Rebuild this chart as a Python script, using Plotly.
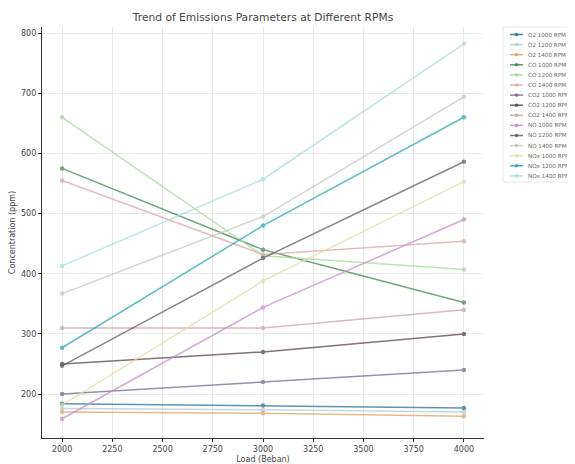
import plotly.graph_objects as go

loads = [2000, 3000, 4000]

series_names = [
    "O2 1000 RPM", "O2 1200 RPM", "O2 1400 RPM",
    "CO 1000 RPM", "CO 1200 RPM", "CO 1400 RPM",
    "CO2 1000 RPM", "CO2 1200 RPM", "CO2 1400 RPM",
    "NO 1000 RPM", "NO 1200 RPM", "NO 1400 RPM",
    "NOx 1000 RPM", "NOx 1200 RPM", "NOx 1400 RPM",
]

o2_1000 = [184, 181, 177]
o2_1200 = [176, 174, 170]
o2_1400 = [170, 168, 163]
co_1000 = [575, 440, 352]
co_1200 = [660, 430, 407]
co_1400 = [555, 432, 454]
co2_1000 = [200, 220, 240]
co2_1200 = [250, 270, 300]
co2_1400 = [310, 310, 340]
no_1000 = [159, 344, 490]
no_1200 = [247, 426, 586]
no_1400 = [367, 495, 694]
nox_1000 = [182, 388, 553]
nox_1200 = [277, 480, 660]
nox_1400 = [413, 557, 782]

series_values = [
    o2_1000, o2_1200, o2_1400,
    co_1000, co_1200, co_1400,
    co2_1000, co2_1200, co2_1400,
    no_1000, no_1200, no_1400,
    nox_1000, nox_1200, nox_1400,
]

colors = [
    "#2f6f8c", "#a9cde0", "#e2a35a",
    "#3c8a4c", "#a6d99e", "#dba8a8",
    "#76698f", "#5a4644", "#c2a8a6",
    "#c98ad0", "#5f5f63", "#c6c6c6",
    "#dfe0a2", "#27a6b6", "#a6dde2",
]

x_ticks = [2000, 2250, 2500, 2750, 3000, 3250, 3500, 3750, 4000]
y_ticks = [200, 300, 400, 500, 600, 700, 800]

fig = go.Figure()
for name, vals, col in zip(series_names, series_values, colors):
    fig.add_trace(go.Scatter(
        x=loads, y=vals, name=name, mode="lines+markers",
        line=dict(color=col, width=1.5),
        marker=dict(color=col, size=4.5),
        opacity=0.75, showlegend=False,
    ))

# The page body has the browser's default 8px margin: lay out in figure pixels
OFF = 8
W, H = 567, 456
ml, mt = 42 - OFF, 27 - OFF
mr = W - (484 - OFF)
mb = H - (438 - OFF)
pw, ph = W - ml - mr, H - mt - mb

def px_to_paper(x, y):
    # x, y in screen pixels
    return (x - OFF - ml) / pw, 1 - (y - OFF - mt) / ph

# compact legend (matplotlib-like), built from the series lists
lx0, ly0, dy = 510, 34.5, 10.1
shapes = []
annotations = []
bx0, by0 = px_to_paper(503, 27)
bx1, by1 = px_to_paper(570, 182)
shapes.append(dict(type="rect", xref="paper", yref="paper", x0=bx0, y0=by1, x1=bx1, y1=by0,
                   line=dict(color="#e8e8e8", width=1), fillcolor="rgba(255,255,255,0.9)", layer="above"))
for i, (name, col) in enumerate(zip(series_names, colors)):
    yy = ly0 + i * dy
    xa, ya = px_to_paper(lx0, yy)
    xb, _ = px_to_paper(lx0 + 13, yy)
    xt, _ = px_to_paper(lx0 + 16, yy)
    shapes.append(dict(type="line", xref="paper", yref="paper", x0=xa, x1=xb, y0=ya, y1=ya,
                       line=dict(color=col, width=1.5), opacity=0.85, layer="above"))
    r = 1.8
    cx0, cy0 = px_to_paper(lx0 + 6.5 - r, yy - r)
    cx1, cy1 = px_to_paper(lx0 + 6.5 + r, yy + r)
    shapes.append(dict(type="circle", xref="paper", yref="paper", x0=cx0, x1=cx1, y0=cy1, y1=cy0,
                       fillcolor=col, line=dict(color=col, width=0), opacity=0.85, layer="above"))
    annotations.append(dict(text=name, xref="paper", yref="paper", x=xt, y=ya,
                            xanchor="left", yanchor="middle", showarrow=False,
                            font=dict(size=5.6, color="#666666", family="DejaVu Sans")))

fig.update_layout(
    width=W, height=H,
    margin=dict(l=ml, r=mr, t=mt, b=mb, autoexpand=False),
    paper_bgcolor="white", plot_bgcolor="white",
    font=dict(family="DejaVu Sans", color="#444444"),
    title=dict(text="Trend of Emissions Parameters at Different RPMs",
               x=(ml + pw / 2) / W, xanchor="center", y=1 - (17 - OFF) / H, yanchor="middle",
               font=dict(size=10.7, color="#444444")),
    shapes=shapes, annotations=annotations,
)
fig.update_xaxes(
    range=[1900, 4100], tickvals=x_ticks, ticktext=[str(t) for t in x_ticks],
    showgrid=True, gridcolor="#e9e9e9", gridwidth=1,
    showline=True, linecolor="#333333", linewidth=1.2,
    ticks="outside", ticklen=3, tickcolor="#333333",
    tickfont=dict(size=8, color="#444444"),
    title=dict(text="Load (Beban)", font=dict(size=8, color="#444444"), standoff=4),
    zeroline=False, automargin=False,
)
fig.update_yaxes(
    range=[127, 810], tickvals=y_ticks, ticktext=[str(t) for t in y_ticks],
    showgrid=True, gridcolor="#e9e9e9", gridwidth=1,
    showline=True, linecolor="#333333", linewidth=1.2,
    ticks="outside", ticklen=3, tickcolor="#333333",
    tickfont=dict(size=8, color="#444444"),
    title=dict(text="Concentration (ppm)", font=dict(size=8, color="#444444"), standoff=8),
    zeroline=False, automargin=False,
)

fig.write_html("out.html")
